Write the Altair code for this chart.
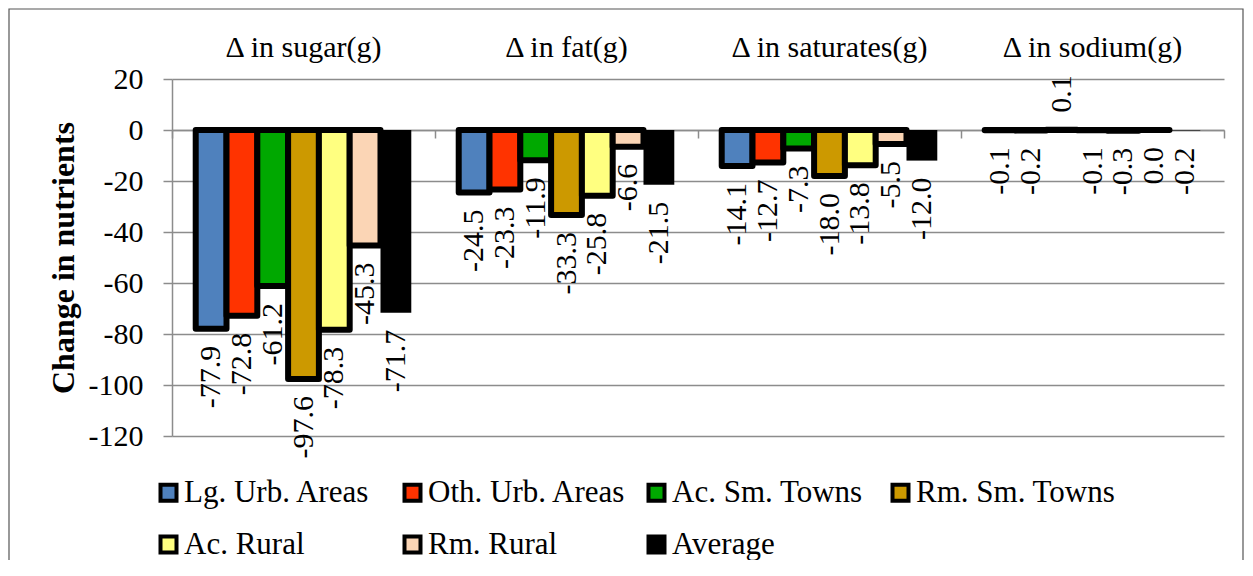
import altair as alt
import pandas as pd

nutrients = ["Δ in sugar(g)", "Δ in fat(g)", "Δ in saturates(g)", "Δ in sodium(g)"]
series = ["Lg. Urb. Areas", "Oth. Urb. Areas", "Ac. Sm. Towns", "Rm. Sm. Towns",
          "Ac. Rural", "Rm. Rural", "Average"]
sugar = [-77.9, -72.8, -61.2, -97.6, -78.3, -45.3, -71.7]
fat = [-24.5, -23.3, -11.9, -33.3, -25.8, -6.6, -21.5]
saturates = [-14.1, -12.7, -7.3, -18.0, -13.8, -5.5, -12.0]
sodium = [-0.1, -0.2, 0.1, -0.1, -0.3, 0.0, -0.2]
colors = ["#4F81BD", "#FF3300", "#00A800", "#CC9900", "#FFFF80", "#FBD5B5", "#000000"]
y_ticks = [20, 0, -20, -40, -60, -80, -100, -120]

rows = []
for n, vals in zip(nutrients, [sugar, fat, saturates, sodium]):
    for s, v in zip(series, vals):
        rows.append({"nutrient": n, "series": s, "value": v, "label": f"{v:.1f}"})
df = pd.DataFrame(rows)

FONT = "Liberation Serif, Times New Roman, Times, serif"
W, H = 1052, 357
GRID = "#8c8c8c"

x_shared_scale = alt.Scale(domain=nutrients, paddingInner=0, paddingOuter=0)
xoff = alt.XOffset("series:N", sort=series,
                   scale=alt.Scale(domain=series, paddingInner=0, paddingOuter=0.77))
y_scale = alt.Scale(domain=[-120, 20], nice=False, zero=False)

y_axis = alt.Axis(values=y_ticks, title="Change in nutrients",
                  titleFont=FONT, titleFontSize=32, titleFontWeight="bold",
                  titleColor="black", titlePadding=8,
                  labelFont=FONT, labelFontSize=30, labelColor="black",
                  labelPadding=20, labelExpr="'' + datum.value",
                  tickSize=9, tickColor=GRID, tickWidth=1.5,
                  domainColor=GRID, domainWidth=1.5,
                  grid=True, gridColor=GRID, gridWidth=1.5)

base = alt.Chart(df)

bars = base.mark_bar(stroke="black", strokeJoin="round").encode(
    x=alt.X("nutrient:N", sort=nutrients, scale=x_shared_scale,
            axis=alt.Axis(orient="top", title=None, ticks=False, domain=False,
                          labelAngle=0, labelFont=FONT, labelFontSize=30,
                          labelColor="black", labelPadding=17, labelLimit=0,
                          grid=False)),
    xOffset=xoff,
    y=alt.Y("value:Q", scale=y_scale, axis=y_axis),
    color=alt.Color("series:N", sort=series,
                    scale=alt.Scale(domain=series, range=colors),
                    legend=alt.Legend(title=None, orient="none", legendX=-19, legendY=398,
                                      direction="horizontal", columns=4,
                                      gridAlign="all", columnPadding=12, rowPadding=19,
                                      symbolType="square", symbolSize=256,
                                      symbolStrokeColor="black", symbolStrokeWidth=4,
                                      labelFont=FONT, labelFontSize=31,
                                      labelColor="black", labelOffset=0,
                                      labelLimit=400, padding=0)),
    strokeWidth=alt.condition(alt.datum.series == "Average", alt.value(0), alt.value(6)),
)

neg_text = base.transform_filter(alt.datum.value <= 0).mark_text(
    angle=270, align="right", baseline="middle", dx=-17,
    font=FONT, fontSize=30, color="black"
).encode(
    x=alt.X("nutrient:N", sort=nutrients, scale=x_shared_scale,
            axis=alt.Axis(orient="bottom", offset=-(H - H * 20 / 140), title=None,
                          labels=False, ticks=True, tickBand="extent", tickSize=8,
                          tickColor=GRID, tickWidth=1.5, domain=True,
                          domainColor=GRID, domainWidth=1.5, grid=False)),
    xOffset=xoff,
    y=alt.Y("value:Q", scale=y_scale, axis=y_axis),
    text="label:N",
)

pos_text = base.transform_filter(alt.datum.value > 0).mark_text(
    angle=270, align="left", baseline="middle", dx=17,
    font=FONT, fontSize=30, color="black"
).encode(
    x=alt.X("nutrient:N", sort=nutrients, scale=x_shared_scale, axis=None),
    xOffset=xoff,
    y=alt.Y("value:Q", scale=y_scale, axis=y_axis),
    text="label:N",
)

frame = alt.Chart(pd.DataFrame({"f": [0]})).mark_rect(
    fillOpacity=0, stroke="#555555", strokeWidth=1.2
).encode(
    x=alt.value(-163), x2=alt.value(1071), y=alt.value(-70), y2=alt.value(700)
)

chart = alt.layer(frame, bars, neg_text, pos_text).resolve_axis(
    x="independent"
).properties(
    width=W, height=H,
    autosize=alt.AutoSizeParams(type="none"),
    padding={"left": 164, "top": 71, "right": 20, "bottom": 124},
    background="white",
).configure_view(stroke=None)

chart.save("out.html", embed_options={"renderer": "svg", "actions": False})
